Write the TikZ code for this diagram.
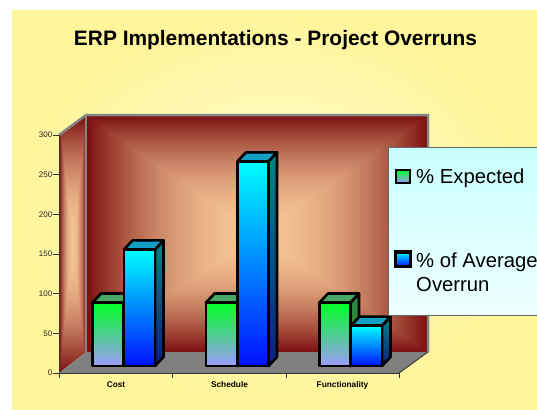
\documentclass[tikz,border=0pt]{standalone}
\usepackage{fontspec}
\setmainfont{Liberation Sans}
\usepackage{tikz}
\usetikzlibrary{calc}
\usepgflibrary{shadings}
\definecolor{chartYellow}{HTML}{FFF59A}
\definecolor{chartPale}{HTML}{FFFBD2}
\definecolor{wallGray}{HTML}{868686}
\definecolor{floorGray}{HTML}{808080}
\definecolor{expTop}{HTML}{00FF22}
\definecolor{expBottom}{HTML}{9C9CFF}
\definecolor{expSide}{HTML}{2A8A3A}
\definecolor{expLid}{HTML}{45A865}
\definecolor{avgTop}{HTML}{00FFFF}
\definecolor{avgBottom}{HTML}{0010FF}
\definecolor{avgSideTop}{HTML}{008585}
\definecolor{avgSideBottom}{HTML}{0A1E80}
\definecolor{avgLid}{HTML}{14A0C4}
\definecolor{legendTop}{HTML}{C8FFFF}
\definecolor{legendBottom}{HTML}{EEFFFF}
% peach centre, dark red rim (rectangular gradient)
\pgfdeclarefunctionalshading{wallshade}{\pgfpointorigin}{\pgfpoint{100bp}{100bp}}{}{
  50 sub abs exch 50 sub abs 2 copy lt {exch} if pop
  25 div 1 2 copy gt {exch} if pop
  dup mul
  dup -0.48 mul 0.96 add exch
  dup -0.72 mul 0.77 add exch
  -0.53 mul 0.58 add
}

\begin{document}
\begin{tikzpicture}[x=1bp, y=-1bp, every node/.style={inner sep=0pt},
    barline/.style={draw=black, line width=2.6bp, line join=round},
    wallline/.style={draw=wallGray, line width=2.5bp},
    axisline/.style={draw=black!80, line width=0.9bp},
    ticklabel/.style={font=\fontsize{8bp}{9bp}\selectfont, text=black!85},
    catlabel/.style={font=\bfseries\fontsize{8.3bp}{10bp}\selectfont},
    legendtext/.style={font=\fontsize{20.3bp}{24bp}\selectfont, anchor=base west}]
  \useasboundingbox (0,0) rectangle (537,409);
  \fill[white] (0,0) rectangle (537,409);
  \shade[inner color=chartPale, outer color=chartYellow] (12,10) rectangle (537,409);

  \coordinate (O) at (59,373);
  \coordinate (T) at (59,135);
  \coordinate (X) at (399,373);
  \coordinate (Ob) at (86,352);
  \coordinate (Tb) at (86,115);
  \coordinate (Xb) at (428,352);
  \coordinate (XTb) at (428,115);

  % walls and floor
  \shade[shading=wallshade] (Tb) rectangle (Xb);
  \shade[shading=wallshade] (T) -- (Tb) -- (Ob) -- (O) -- cycle;
  \fill[floorGray] (O) -- (Ob) -- (Xb) -- (X) -- cycle;
  \draw[wallline] (T) -- (Tb) -- (XTb) -- (Xb);
  \draw[wallline] (Tb) -- (Ob);
  \draw[axisline] (X) -- (Xb);
  \draw[axisline] (T) -- (O) -- (X);

  \foreach \v in {0,50,...,300} {
    \draw[axisline] (53,373-0.7933*\v) -- (59,373-0.7933*\v);
    \node[ticklabel, anchor=east] (ytick\v) at (52.5,373-0.7933*\v) {\v};
  }
  \foreach \x in {59,172.5,286,399}
    \draw[axisline] (\x,373) -- (\x,378);
  \node[catlabel] (catCost) at (116,385) {Cost};
  \node[catlabel] (catSchedule) at (229.5,385) {Schedule};
  \node[catlabel] (catFunctionality) at (342.5,385) {Functionality};

  % bars: green = expected, blue = average overrun
  \foreach \i/\v in {0/147, 1/258, 2/51} {
    \pgfmathsetmacro{\gx}{92.5+113.5*\i}
    \pgfmathsetmacro{\bx}{\gx+31.5}
    \pgfmathsetmacro{\gy}{366-0.7933*80}
    \pgfmathsetmacro{\by}{366-0.7933*\v}
    \filldraw[barline, fill=expSide] (\gx+31,366) -- (\gx+31,\gy) -- (\gx+39.5,\gy-9) -- (\gx+39.5,357) -- cycle;
    \filldraw[barline, fill=expLid] (\gx,\gy) -- (\gx+31,\gy) -- (\gx+39.5,\gy-9) -- (\gx+8.5,\gy-9) -- cycle;
    \shadedraw[barline, top color=expTop, bottom color=expBottom] (\gx,\gy) rectangle (\gx+31,366);
    \shadedraw[barline, top color=avgSideTop, bottom color=avgSideBottom] (\bx+31,366) -- (\bx+31,\by) -- (\bx+39.5,\by-9) -- (\bx+39.5,357) -- cycle;
    \filldraw[barline, fill=avgLid] (\bx,\by) -- (\bx+31,\by) -- (\bx+39.5,\by-9) -- (\bx+8.5,\by-9) -- cycle;
    \shadedraw[barline, top color=avgTop, bottom color=avgBottom] (\bx,\by) rectangle (\bx+31,366);
  }

  % legend
  \shadedraw[draw=black!60, line width=0.8bp, top color=legendTop, bottom color=legendBottom] (388.5,147.5) rectangle (545,315);
  \shadedraw[draw=black, line width=1.5bp, top color=expTop, bottom color=expBottom] (396,170) rectangle (410,183);
  \shadedraw[draw=black, line width=3.4bp, top color=avgTop, bottom color=avgBottom] (395.7,251.8) rectangle (410.3,266.5);
  \node[legendtext] (legExpected) at (416,183) {\% Expected};
  \node[legendtext] (legAverage) at (416,267.5) {\% of Average};
  \node[legendtext] (legOverrun) at (416,291.7) {Overrun};

  \node[font=\bfseries\fontsize{20.9bp}{25bp}\selectfont, anchor=base] (title) at (275.5,45.7) {ERP Implementations - Project Overruns};
\end{tikzpicture}
\end{document}
